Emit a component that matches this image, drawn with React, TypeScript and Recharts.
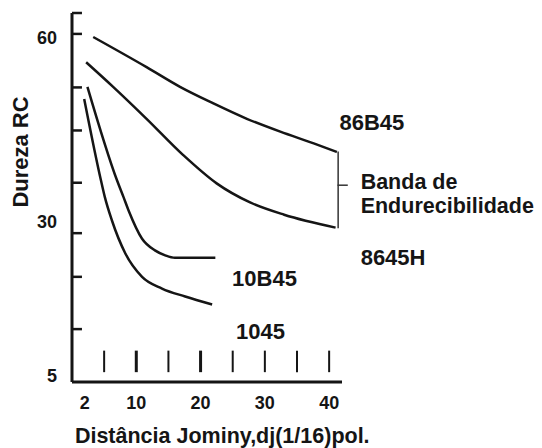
import React from 'react';
import { LineChart, Line, XAxis, YAxis, ReferenceLine, ReferenceDot } from 'recharts';

const FONT = "'Liberation Sans', Arial, Helvetica, sans-serif";
const INK = '#151515';

// Jominy distance (1/16 in) and hardness (HRC)
const dist86B45 = [3.3, 11.6, 16.8, 22.0, 27.2, 32.4, 37.6, 41.2];
const hrc86B45 = [60.1, 55.2, 52.0, 49.3, 46.8, 44.7, 42.8, 41.4];

const dist8645H = [2.2, 6.4, 11.6, 17.3, 22.5, 27.7, 33.0, 41.0];
const hrc8645H = [56.0, 52.0, 46.8, 40.9, 36.3, 33.2, 31.2, 29.1];

const dist10B45 = [2.4, 7.0, 8.0, 8.8, 10.9, 12.9, 14.5, 16.0, 22.3];
const hrc10B45 = [52.0, 36.8, 34.1, 31.9, 27.3, 25.4, 24.6, 24.2, 24.2];

const dist1045 = [1.9, 4.5, 5.1, 6.2, 8.3, 10.9, 14.0, 17.6, 21.8];
const hrc1045 = [50.0, 36.8, 34.1, 30.3, 24.9, 21.1, 19.2, 17.9, 16.6];

const xTickValues = [2, 10, 20, 30, 40];
const yTickValues = [60, 30, 5];
const xMarkValues = [5, 10, 15, 20, 25, 30, 35, 40];
const xBoldMarks = [10, 20];
const yMarkValues = [64, 60.6, 51.9, 44.9, 36.4, 28.2, 21.1, 12.6];

const toPoints = (xs: number[], ys: number[]) => xs.map((x, i) => ({ x, y: ys[i] }));

const series = [
  { name: '86B45', data: toPoints(dist86B45, hrc86B45) },
  { name: '8645H', data: toPoints(dist8645H, hrc8645H) },
  { name: '10B45', data: toPoints(dist10B45, hrc10B45) },
  { name: '1045', data: toPoints(dist1045, hrc1045) },
];

// text annotations, anchored in data coordinates (first line centre)
const notes = [
  { lines: ['86B45'], x: 41.6, y: 46.2, size: 22, gap: 0 },
  { lines: ['Banda de', 'Endurecibilidade'], x: 44.9, y: 36.6, size: 21.5, gap: 24 },
  { lines: ['8645H'], x: 44.9, y: 24.3, size: 22, gap: 0 },
  { lines: ['10B45'], x: 24.9, y: 20.9, size: 22, gap: 0 },
  { lines: ['1045'], x: 25.5, y: 12.2, size: 22, gap: 0 },
  { lines: ['Distância Jominy,dj(1/16)pol.'], x: 0.45, y: -4.7, size: 21.5, gap: 0 },
];

// brace grouping the hardenability band
const brace = { x: 41.4, top: 41.5, bottom: 29.0, tipX: 42.9, tipY: 36.0 };

const XTick = ({ x, y, payload }: any) => (
  <text x={x} y={y + 27} textAnchor="middle" fontFamily={FONT} fontSize={18} fontWeight="bold" fill={INK}>
    {payload.value}
  </text>
);

const YTick = ({ x, y, payload }: any) => (
  <text x={x - 15} y={y} dy="0.35em" textAnchor="end" fontFamily={FONT} fontSize={18} fontWeight="bold" fill={INK}>
    {payload.value}
  </text>
);

const NoteLabel = ({ viewBox, lines, size, gap, rotation }: any) => {
  const cx = viewBox.x + viewBox.width / 2;
  const cy = viewBox.y + viewBox.height / 2;
  return (
    <text
      x={cx}
      y={cy}
      textAnchor={rotation ? 'middle' : 'start'}
      transform={rotation ? `rotate(${rotation} ${cx} ${cy})` : undefined}
      fontFamily={FONT}
      fontSize={size}
      fontWeight="bold"
      fill={INK}
    >
      {lines.map((l: string, i: number) => (
        <tspan key={l} x={cx} dy={i === 0 ? '0.35em' : gap}>
          {l}
        </tspan>
      ))}
    </text>
  );
};

export default function App() {
  return (
    <div style={{ position: 'absolute', left: 0, top: 0, width: 542, height: 448, background: '#fff' }}>
      <LineChart width={542} height={448} margin={{ top: 13, right: 200, bottom: 36, left: 0 }}>
        <XAxis
          type="number"
          dataKey="x"
          domain={[0, 42]}
          ticks={xTickValues}
          tick={<XTick />}
          tickLine={false}
          tickSize={0}
          tickMargin={0}
          height={30}
          axisLine={{ stroke: INK, strokeWidth: 3 }}
        />
        <YAxis
          type="number"
          domain={[4, 64]}
          ticks={yTickValues}
          tick={<YTick />}
          tickLine={false}
          tickSize={0}
          tickMargin={0}
          width={72}
          axisLine={{ stroke: INK, strokeWidth: 3 }}
        />

        {/* short tick marks sitting above the x axis */}
        {xMarkValues.map((v) => (
          <ReferenceLine
            key={`xm-${v}`}
            segment={[{ x: v, y: 5.6 }, { x: v, y: 9.1 }]}
            stroke={INK}
            strokeWidth={xBoldMarks.includes(v) ? 3 : 2}
          />
        ))}

        {/* inward tick marks on the y axis */}
        {yMarkValues.map((v) => (
          <ReferenceLine
            key={`ym-${v}`}
            segment={[{ x: 0, y: v }, { x: 1.55, y: v }]}
            stroke={INK}
            strokeWidth={2.5}
          />
        ))}

        {/* brace */}
        <ReferenceLine
          segment={[{ x: brace.x, y: brace.top }, { x: brace.x, y: brace.bottom }]}
          stroke="#333"
          strokeWidth={1.5}
          ifOverflow="visible"
        />
        <ReferenceLine
          segment={[{ x: brace.x - 0.1, y: brace.tipY }, { x: brace.tipX, y: brace.tipY }]}
          stroke="#333"
          strokeWidth={1.5}
          ifOverflow="visible"
        />

        {series.map((s) => (
          <Line
            key={s.name}
            data={s.data}
            dataKey="y"
            type="monotone"
            stroke={INK}
            strokeWidth={2.5}
            dot={false}
            isAnimationActive={false}
          />
        ))}

        {notes.map((n) => (
          <ReferenceDot
            key={n.lines[0]}
            x={n.x}
            y={n.y}
            r={1}
            fill="none"
            stroke="none"
            ifOverflow="visible"
            label={<NoteLabel lines={n.lines} size={n.size} gap={n.gap} />}
          />
        ))}
        <ReferenceDot
          x={-8}
          y={41.4}
          r={1}
          fill="none"
          stroke="none"
          ifOverflow="visible"
          label={<NoteLabel lines={['Dureza RC']} size={22} gap={0} rotation={-90} />}
        />
      </LineChart>
    </div>
  );
}
